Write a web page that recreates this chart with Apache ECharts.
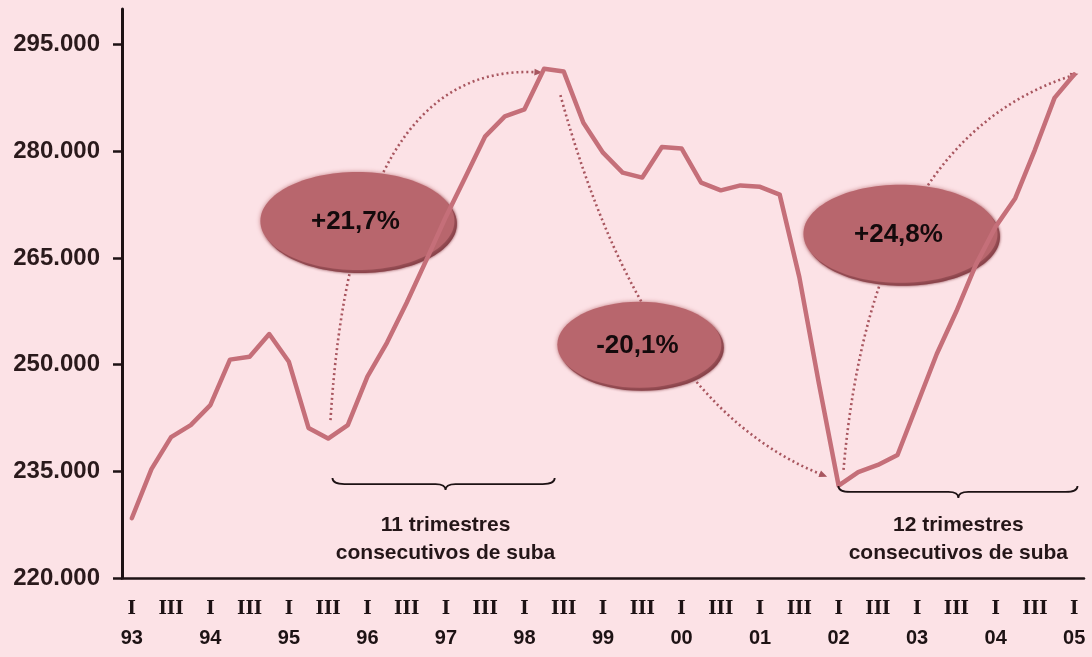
<!DOCTYPE html>
<html>
<head>
<meta charset="utf-8">
<script src="https://cdn.jsdelivr.net/npm/echarts@6/dist/echarts.min.js"></script>
<style>
  html, body { margin: 0; padding: 0; background: #fce2e6; }
  #chart { width: 1092px; height: 657px; }
</style>
</head>
<body>
<div id="chart"></div>
<script>
// Quarterly series, 1993-I to 2005-I
const quarters = [
  'I 93', 'II 93', 'III 93', 'IV 93',
  'I 94', 'II 94', 'III 94', 'IV 94',
  'I 95', 'II 95', 'III 95', 'IV 95',
  'I 96', 'II 96', 'III 96', 'IV 96',
  'I 97', 'II 97', 'III 97', 'IV 97',
  'I 98', 'II 98', 'III 98', 'IV 98',
  'I 99', 'II 99', 'III 99', 'IV 99',
  'I 00', 'II 00', 'III 00', 'IV 00',
  'I 01', 'II 01', 'III 01', 'IV 01',
  'I 02', 'II 02', 'III 02', 'IV 02',
  'I 03', 'II 03', 'III 03', 'IV 03',
  'I 04', 'II 04', 'III 04', 'IV 04',
  'I 05'
];

const values = [
  228400, 235300, 239800, 241500,
  244300, 250700, 251100, 254300,
  250400, 241100, 239600, 241500,
  248300, 253100, 258700, 264700,
  270800, 276400, 282100, 284900,
  285900, 291600, 291200, 284000,
  279800, 277000, 276300, 280600,
  280400, 275600, 274500, 275200,
  275000, 273900, 262300, 247300,
  233000, 234900, 235900, 237300,
  244400, 251500, 257500, 264100,
  269400, 273400, 280200, 287500,
  290800
];

const yTicks = [220000, 235000, 250000, 265000, 280000, 295000];

// Percentage swings between trough and peak quarters
const swingLabels = ['+21,7%', '-20,1%', '+24,8%'];
const spanLabels = ['11 trimestres\nconsecutivos de suba', '12 trimestres\nconsecutivos de suba'];

// Annotation anchors in data space: [quarter index, value]
const swingBadges = [[11.49, 270200], [25.85, 252800], [39.15, 268400]];
const swingArcs = [
  { from: [10.12, 242200], ctrl: [11.25, 292600], to: [20.66, 291100] },
  { from: [21.83, 287900], ctrl: [26.15, 244300], to: [35.18, 234500] },
  { from: [36.25, 235200], ctrl: [37.72, 281900], to: [47.97, 290700] }
];
const spanBraces = [
  { from: 10.22, to: 21.54, tip: 15.98, level: 233200, textLevel: 225500 },
  { from: 35.99, to: 48.17, tip: 42.10, level: 232100, textLevel: 225500 }
];

const LINE = '#c56f79';
const DOTS = '#a8565f';
const BADGE = '#b8666d';
const BADGE_RIM = '#874249';
const INK = '#1d1214';

// Pixel position of a fractional quarter index on the category axis
function at(api, idx, val) {
  const a = api.coord([0, val]);
  const b = api.coord([1, val]);
  return [a[0] + idx * (b[0] - a[0]), a[1]];
}

function thousands(v) {
  return String(v).replace(/\B(?=(\d{3})+(?!\d))/g, '.');
}

const chart = echarts.init(document.getElementById('chart'), null, { renderer: 'canvas' });

chart.setOption({
  backgroundColor: '#fce2e6',
  animation: false,
  grid: { left: 122, right: 8, top: 9, bottom: 79, containLabel: false, outerBoundsMode: 'none' },
  xAxis: {
    type: 'category',
    data: quarters,
    boundaryGap: true,
    axisLine: { lineStyle: { color: INK, width: 2.5 } },
    axisTick: { interval: 0, alignWithLabel: true, length: 6, lineStyle: { color: INK, width: 2.5 } },
    axisLabel: {
      interval: 0,
      margin: 20,
      formatter: function (val) {
        const parts = val.split(' ');
        if (parts[0] === 'I') return '{r|I}\n{y|' + parts[1] + '}';
        if (parts[0] === 'III') return '{r|III}';
        return '';
      },
      rich: {
        r: { fontFamily: 'DejaVu Serif', fontWeight: 'bold', fontSize: 18, color: INK, lineHeight: 22 },
        y: { fontFamily: 'Liberation Sans', fontWeight: 'bold', fontSize: 20, color: INK, lineHeight: 36 }
      }
    },
    splitLine: { show: false }
  },
  yAxis: {
    type: 'value',
    min: 220000,
    max: 300000,
    axisLine: { show: true, lineStyle: { color: INK, width: 3 } },
    axisTick: { show: true, length: 9, customValues: yTicks, lineStyle: { color: INK, width: 2.5 } },
    axisLabel: {
      customValues: yTicks,
      margin: 22,
      fontFamily: 'Liberation Sans',
      fontWeight: 'bold',
      fontSize: 24,
      color: '#2a1a1c',
      formatter: thousands
    },
    splitLine: { show: false }
  },
  series: [
    {
      // dotted arcs joining trough and peak
      type: 'custom',
      z: 1,
      silent: true,
      data: swingArcs.map(function (a, i) { return [i, a.from[1]]; }),
      renderItem: function (params, api) {
        const a = swingArcs[params.dataIndex];
        const p0 = at(api, a.from[0], a.from[1]);
        const p1 = at(api, a.ctrl[0], a.ctrl[1]);
        const p2 = at(api, a.to[0], a.to[1]);
        const dx = p2[0] - p1[0], dy = p2[1] - p1[1];
        const len = Math.sqrt(dx * dx + dy * dy) || 1;
        const ux = dx / len, uy = dy / len;
        const head = [
          [p2[0] + ux * 5, p2[1] + uy * 5],
          [p2[0] - ux * 3 - uy * 3.5, p2[1] - uy * 3 + ux * 3.5],
          [p2[0] - ux * 3 + uy * 3.5, p2[1] - uy * 3 - ux * 3.5]
        ];
        return {
          type: 'group',
          children: [
            {
              type: 'bezierCurve',
              shape: { x1: p0[0], y1: p0[1], x2: p2[0], y2: p2[1], cpx1: p1[0], cpy1: p1[1] },
              style: { stroke: DOTS, lineWidth: 2.6, lineDash: [2, 3], fill: null }
            },
            { type: 'polygon', shape: { points: head }, style: { fill: DOTS } }
          ]
        };
      }
    },
    {
      // percentage badges
      type: 'custom',
      z: 2,
      silent: true,
      data: swingBadges.map(function (b, i) { return [i, b[1]]; }),
      renderItem: function (params, api) {
        const i = params.dataIndex;
        const c = at(api, swingBadges[i][0], swingBadges[i][1]);
        const rx = i === 1 ? 82 : 97;
        const ry = i === 1 ? 43 : 49;
        return {
          type: 'group',
          children: [
            { type: 'ellipse', shape: { cx: c[0] + 2.5, cy: c[1] + 3, rx: rx, ry: ry },
              style: { fill: BADGE_RIM, shadowBlur: 3, shadowColor: BADGE_RIM } },
            { type: 'ellipse', shape: { cx: c[0], cy: c[1], rx: rx, ry: ry },
              style: { fill: BADGE, shadowBlur: 4, shadowColor: 'rgba(184,102,109,0.8)' } },
            { type: 'text', x: c[0] - 2, y: c[1] + 1,
              style: { text: swingLabels[i], fill: '#140a0c', font: 'bold 26px "Liberation Sans"', align: 'center', verticalAlign: 'middle' } }
          ]
        };
      }
    },
    {
      type: 'line',
      z: 3,
      data: values,
      symbol: 'none',
      smooth: false,
      silent: true,
      lineStyle: { color: LINE, width: 4.5, join: 'round', cap: 'round' }
    },
    {
      // braces marking consecutive rising quarters
      type: 'custom',
      z: 4,
      silent: true,
      data: spanBraces.map(function (b, i) { return [i, b.level]; }),
      renderItem: function (params, api) {
        const b = spanBraces[params.dataIndex];
        const l = at(api, b.from, b.level);
        const r = at(api, b.to, b.level);
        const t = at(api, b.tip, b.level);
        const y = l[1];
        const d = 'M' + l[0] + ' ' + (y - 6) +
          ' Q' + l[0] + ' ' + y + ' ' + (l[0] + 12) + ' ' + y +
          ' L' + (t[0] - 10) + ' ' + y +
          ' Q' + t[0] + ' ' + y + ' ' + t[0] + ' ' + (y + 6) +
          ' Q' + t[0] + ' ' + y + ' ' + (t[0] + 10) + ' ' + y +
          ' L' + (r[0] - 12) + ' ' + y +
          ' Q' + r[0] + ' ' + y + ' ' + r[0] + ' ' + (y - 6);
        const tp = at(api, b.tip, b.textLevel);
        return {
          type: 'group',
          children: [
            { type: 'path', shape: { pathData: d }, style: { stroke: INK, lineWidth: 1.8, fill: null } },
            { type: 'text', x: tp[0], y: tp[1],
              style: { text: spanLabels[params.dataIndex], fill: '#241618', font: 'bold 21px "Liberation Sans"',
                       lineHeight: 28, align: 'center', verticalAlign: 'middle' } }
          ]
        };
      }
    }
  ]
});
</script>
</body>
</html>
